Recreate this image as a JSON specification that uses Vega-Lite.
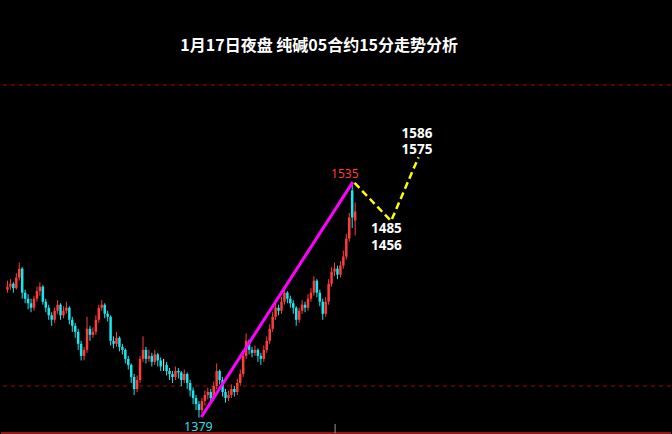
{
  "$schema": "https://vega.github.io/schema/vega-lite/v6.json",
  "width": 672,
  "height": 434,
  "autosize": {"type": "fit", "contains": "padding"},
  "padding": 0,
  "background": "#000000",
  "config": {"view": {"stroke": null}, "axis": {"disable": true}},
  "datasets": {
    "candles": [
      {"i":0,"o":1464,"c":1466,"h":1470,"l":1462},
      {"i":1,"o":1466,"c":1468,"h":1471,"l":1464},
      {"i":2,"o":1468,"c":1465,"h":1469,"l":1462},
      {"i":3,"o":1465,"c":1472,"h":1475,"l":1464},
      {"i":4,"o":1472,"c":1478,"h":1482,"l":1470},
      {"i":5,"o":1478,"c":1462,"h":1479,"l":1458},
      {"i":6,"o":1462,"c":1458,"h":1464,"l":1455},
      {"i":7,"o":1458,"c":1455,"h":1461,"l":1451},
      {"i":8,"o":1455,"c":1452,"h":1458,"l":1449},
      {"i":9,"o":1452,"c":1458,"h":1460,"l":1450},
      {"i":10,"o":1458,"c":1463,"h":1466,"l":1456},
      {"i":11,"o":1463,"c":1466,"h":1469,"l":1460},
      {"i":12,"o":1466,"c":1456,"h":1467,"l":1454},
      {"i":13,"o":1456,"c":1452,"h":1458,"l":1449},
      {"i":14,"o":1452,"c":1447,"h":1454,"l":1444},
      {"i":15,"o":1447,"c":1444,"h":1449,"l":1440},
      {"i":16,"o":1444,"c":1450,"h":1452,"l":1442},
      {"i":17,"o":1450,"c":1454,"h":1457,"l":1448},
      {"i":18,"o":1454,"c":1447,"h":1455,"l":1444},
      {"i":19,"o":1447,"c":1450,"h":1453,"l":1445},
      {"i":20,"o":1450,"c":1452,"h":1456,"l":1448},
      {"i":21,"o":1452,"c":1444,"h":1453,"l":1441},
      {"i":22,"o":1444,"c":1440,"h":1446,"l":1436},
      {"i":23,"o":1440,"c":1436,"h":1442,"l":1432},
      {"i":24,"o":1436,"c":1428,"h":1438,"l":1424},
      {"i":25,"o":1428,"c":1420,"h":1430,"l":1417},
      {"i":26,"o":1420,"c":1424,"h":1426,"l":1417},
      {"i":27,"o":1424,"c":1438,"h":1446,"l":1422},
      {"i":28,"o":1438,"c":1434,"h":1440,"l":1430},
      {"i":29,"o":1434,"c":1436,"h":1439,"l":1432},
      {"i":30,"o":1436,"c":1444,"h":1447,"l":1434},
      {"i":31,"o":1444,"c":1452,"h":1454,"l":1442},
      {"i":32,"o":1452,"c":1454,"h":1457,"l":1450},
      {"i":33,"o":1454,"c":1448,"h":1455,"l":1445},
      {"i":34,"o":1448,"c":1446,"h":1450,"l":1443},
      {"i":35,"o":1446,"c":1430,"h":1447,"l":1427},
      {"i":36,"o":1430,"c":1428,"h":1433,"l":1425},
      {"i":37,"o":1428,"c":1432,"h":1436,"l":1426},
      {"i":38,"o":1432,"c":1426,"h":1433,"l":1423},
      {"i":39,"o":1426,"c":1424,"h":1428,"l":1421},
      {"i":40,"o":1424,"c":1418,"h":1425,"l":1415},
      {"i":41,"o":1418,"c":1414,"h":1420,"l":1411},
      {"i":42,"o":1414,"c":1406,"h":1415,"l":1402},
      {"i":43,"o":1406,"c":1398,"h":1408,"l":1394},
      {"i":44,"o":1398,"c":1404,"h":1407,"l":1396},
      {"i":45,"o":1404,"c":1418,"h":1420,"l":1402},
      {"i":46,"o":1418,"c":1424,"h":1433,"l":1416},
      {"i":47,"o":1424,"c":1418,"h":1426,"l":1415},
      {"i":48,"o":1418,"c":1420,"h":1424,"l":1416},
      {"i":49,"o":1420,"c":1416,"h":1422,"l":1413},
      {"i":50,"o":1416,"c":1421,"h":1424,"l":1414},
      {"i":51,"o":1421,"c":1417,"h":1422,"l":1413},
      {"i":52,"o":1417,"c":1413,"h":1419,"l":1410},
      {"i":53,"o":1413,"c":1413,"h":1418,"l":1410},
      {"i":54,"o":1414,"c":1410,"h":1416,"l":1407},
      {"i":55,"o":1410,"c":1408,"h":1412,"l":1404},
      {"i":56,"o":1408,"c":1406,"h":1410,"l":1402},
      {"i":57,"o":1406,"c":1410,"h":1413,"l":1404},
      {"i":58,"o":1410,"c":1409,"h":1412,"l":1405},
      {"i":59,"o":1409,"c":1404,"h":1410,"l":1400},
      {"i":60,"o":1404,"c":1408,"h":1411,"l":1402},
      {"i":61,"o":1408,"c":1402,"h":1409,"l":1398},
      {"i":62,"o":1402,"c":1397,"h":1404,"l":1393},
      {"i":63,"o":1397,"c":1392,"h":1399,"l":1388},
      {"i":64,"o":1392,"c":1388,"h":1394,"l":1384},
      {"i":65,"o":1388,"c":1384,"h":1390,"l":1379},
      {"i":66,"o":1384,"c":1390,"h":1392,"l":1382},
      {"i":67,"o":1390,"c":1394,"h":1397,"l":1387},
      {"i":68,"o":1394,"c":1396,"h":1399,"l":1391},
      {"i":69,"o":1396,"c":1392,"h":1398,"l":1389},
      {"i":70,"o":1392,"c":1400,"h":1403,"l":1390},
      {"i":71,"o":1400,"c":1410,"h":1415,"l":1398},
      {"i":72,"o":1410,"c":1404,"h":1411,"l":1401},
      {"i":73,"o":1404,"c":1396,"h":1406,"l":1393},
      {"i":74,"o":1396,"c":1392,"h":1398,"l":1389},
      {"i":75,"o":1392,"c":1394,"h":1397,"l":1390},
      {"i":76,"o":1394,"c":1398,"h":1401,"l":1392},
      {"i":77,"o":1398,"c":1396,"h":1400,"l":1393},
      {"i":78,"o":1396,"c":1402,"h":1405,"l":1394},
      {"i":79,"o":1402,"c":1408,"h":1411,"l":1400},
      {"i":80,"o":1408,"c":1420,"h":1423,"l":1406},
      {"i":81,"o":1420,"c":1430,"h":1435,"l":1418},
      {"i":82,"o":1430,"c":1424,"h":1431,"l":1421},
      {"i":83,"o":1424,"c":1422,"h":1426,"l":1419},
      {"i":84,"o":1422,"c":1424,"h":1427,"l":1420},
      {"i":85,"o":1424,"c":1420,"h":1425,"l":1416},
      {"i":86,"o":1420,"c":1418,"h":1422,"l":1414},
      {"i":87,"o":1418,"c":1424,"h":1427,"l":1416},
      {"i":88,"o":1424,"c":1430,"h":1433,"l":1422},
      {"i":89,"o":1430,"c":1438,"h":1441,"l":1428},
      {"i":90,"o":1438,"c":1446,"h":1449,"l":1436},
      {"i":91,"o":1446,"c":1452,"h":1455,"l":1444},
      {"i":92,"o":1452,"c":1450,"h":1454,"l":1447},
      {"i":93,"o":1450,"c":1456,"h":1459,"l":1448},
      {"i":94,"o":1456,"c":1462,"h":1464,"l":1454},
      {"i":95,"o":1462,"c":1458,"h":1463,"l":1455},
      {"i":96,"o":1458,"c":1455,"h":1460,"l":1452},
      {"i":97,"o":1455,"c":1452,"h":1457,"l":1448},
      {"i":98,"o":1452,"c":1444,"h":1453,"l":1440},
      {"i":99,"o":1444,"c":1450,"h":1452,"l":1442},
      {"i":100,"o":1450,"c":1454,"h":1457,"l":1448},
      {"i":101,"o":1454,"c":1452,"h":1456,"l":1449},
      {"i":102,"o":1452,"c":1458,"h":1461,"l":1450},
      {"i":103,"o":1458,"c":1462,"h":1465,"l":1456},
      {"i":104,"o":1462,"c":1470,"h":1473,"l":1460},
      {"i":105,"o":1470,"c":1462,"h":1471,"l":1459},
      {"i":106,"o":1462,"c":1456,"h":1464,"l":1453},
      {"i":107,"o":1456,"c":1448,"h":1458,"l":1444},
      {"i":108,"o":1448,"c":1456,"h":1459,"l":1446},
      {"i":109,"o":1456,"c":1468,"h":1471,"l":1454},
      {"i":110,"o":1468,"c":1476,"h":1479,"l":1466},
      {"i":111,"o":1476,"c":1478,"h":1482,"l":1473},
      {"i":112,"o":1478,"c":1474,"h":1480,"l":1471},
      {"i":113,"o":1474,"c":1480,"h":1483,"l":1472},
      {"i":114,"o":1480,"c":1486,"h":1490,"l":1478},
      {"i":115,"o":1486,"c":1498,"h":1501,"l":1484},
      {"i":116,"o":1498,"c":1512,"h":1515,"l":1496},
      {"i":117,"o":1530,"c":1512,"h":1535,"l":1505},
      {"i":118,"o":1510,"c":1516,"h":1522,"l":1500}
    ],
    "levels": [{"level":1400},{"level":1600}],
    "trend": [{"i":65.8,"p":1379.4},{"i":117.2,"p":1535.5}],
    "forecast": [{"i":117.8,"p":1535},{"i":130.2,"p":1509.6},{"i":139.5,"p":1552}],
    "bigLabels": [
      {"i":128.6,"p":1504.0,"t":"1485"},
      {"i":128.6,"p":1493.0,"t":"1456"},
      {"i":139.0,"p":1567.6,"t":"1586"},
      {"i":139.0,"p":1556.6,"t":"1575"}
    ]
  },
  "layer": [
    {
      "data": {"name": "levels"},
      "mark": {"type": "rule", "color": "#b00000", "strokeDash": [4, 4], "strokeWidth": 1},
      "encoding": {
        "y": {"field": "level", "type": "quantitative", "scale": {"domain": [1368.1, 1656.5], "nice": false, "zero": false}}
      }
    },
    {
      "data": {"values": [{"p": 1368.8}]},
      "mark": {"type": "rule", "color": "#c81e1e", "strokeWidth": 1.5},
      "encoding": {
        "y": {"field": "p", "type": "quantitative", "scale": {"domain": [1368.1, 1656.5], "nice": false, "zero": false}}
      }
    },
    {
      "data": {"values": [{"i": 111.2, "p1": 1368.8, "p2": 1374.8}]},
      "mark": {"type": "rule", "color": "#999999", "strokeWidth": 1},
      "encoding": {
        "x": {"field": "i", "type": "quantitative", "scale": {"domain": [-0.5, 223.5], "nice": false, "zero": false}},
        "y": {"field": "p1", "type": "quantitative", "scale": {"domain": [1368.1, 1656.5], "nice": false, "zero": false}},
        "y2": {"field": "p2"}
      }
    },
    {
      "data": {"name": "candles"},
      "mark": {"type": "rule", "strokeWidth": 1},
      "encoding": {
        "x": {"field": "i", "type": "quantitative", "scale": {"domain": [-0.5, 223.5], "nice": false, "zero": false}},
        "y": {"field": "l", "type": "quantitative", "scale": {"domain": [1368.1, 1656.5], "nice": false, "zero": false}},
        "y2": {"field": "h"},
        "color": {"condition": [{"test": "datum.c > datum.o", "value": "#ff3b3b"}, {"test": "datum.c < datum.o", "value": "#19e6ee"}], "value": "#e8e8e8"}
      }
    },
    {
      "data": {"name": "candles"},
      "mark": {"type": "bar", "width": 2.5},
      "encoding": {
        "x": {"field": "i", "type": "quantitative", "scale": {"domain": [-0.5, 223.5], "nice": false, "zero": false}},
        "y": {"field": "o", "type": "quantitative", "scale": {"domain": [1368.1, 1656.5], "nice": false, "zero": false}},
        "y2": {"field": "c"},
        "color": {"condition": [{"test": "datum.c > datum.o", "value": "#ff3b3b"}, {"test": "datum.c < datum.o", "value": "#19e6ee"}], "value": "#e8e8e8"}
      }
    },
    {
      "data": {"name": "trend"},
      "mark": {"type": "line", "color": "#ff00ff", "strokeWidth": 3},
      "encoding": {
        "x": {"field": "i", "type": "quantitative", "scale": {"domain": [-0.5, 223.5], "nice": false, "zero": false}},
        "y": {"field": "p", "type": "quantitative", "scale": {"domain": [1368.1, 1656.5], "nice": false, "zero": false}}
      }
    },
    {
      "data": {"name": "forecast"},
      "mark": {"type": "line", "color": "#ffff00", "strokeWidth": 2.5, "strokeDash": [7, 4]},
      "encoding": {
        "x": {"field": "i", "type": "quantitative", "scale": {"domain": [-0.5, 223.5], "nice": false, "zero": false}},
        "y": {"field": "p", "type": "quantitative", "scale": {"domain": [1368.1, 1656.5], "nice": false, "zero": false}}
      }
    },
    {
      "data": {"name": "bigLabels"},
      "mark": {"type": "text", "color": "#ffffff", "font": "Noto Sans", "fontWeight": "bold", "fontSize": 13.5, "align": "center", "baseline": "middle"},
      "encoding": {
        "x": {"field": "i", "type": "quantitative", "scale": {"domain": [-0.5, 223.5], "nice": false, "zero": false}},
        "y": {"field": "p", "type": "quantitative", "scale": {"domain": [1368.1, 1656.5], "nice": false, "zero": false}},
        "text": {"field": "t"}
      }
    },
    {
      "data": {"values": [{"i": 114.5, "p": 1541, "t": "1535"}]},
      "mark": {"type": "text", "color": "#ff3b3b", "font": "Noto Sans", "fontSize": 12, "align": "center", "baseline": "middle"},
      "encoding": {
        "x": {"field": "i", "type": "quantitative", "scale": {"domain": [-0.5, 223.5], "nice": false, "zero": false}},
        "y": {"field": "p", "type": "quantitative", "scale": {"domain": [1368.1, 1656.5], "nice": false, "zero": false}},
        "text": {"field": "t"}
      }
    },
    {
      "data": {"values": [{"i": 64.8, "p": 1372.8, "t": "1379"}]},
      "mark": {"type": "text", "color": "#33dde6", "font": "Noto Sans", "fontSize": 12.5, "align": "center", "baseline": "middle"},
      "encoding": {
        "x": {"field": "i", "type": "quantitative", "scale": {"domain": [-0.5, 223.5], "nice": false, "zero": false}},
        "y": {"field": "p", "type": "quantitative", "scale": {"domain": [1368.1, 1656.5], "nice": false, "zero": false}},
        "text": {"field": "t"}
      }
    },
    {
      "data": {"values": [{"i": 105.8, "p": 1625.9, "t": "1月17日夜盘 纯碱05合约15分走势分析"}]},
      "mark": {"type": "text", "color": "#ffffff", "font": "Noto Sans CJK SC", "fontWeight": "bold", "fontSize": 16, "align": "center", "baseline": "middle"},
      "encoding": {
        "x": {"field": "i", "type": "quantitative", "scale": {"domain": [-0.5, 223.5], "nice": false, "zero": false}},
        "y": {"field": "p", "type": "quantitative", "scale": {"domain": [1368.1, 1656.5], "nice": false, "zero": false}},
        "text": {"field": "t"}
      }
    }
  ]
}
